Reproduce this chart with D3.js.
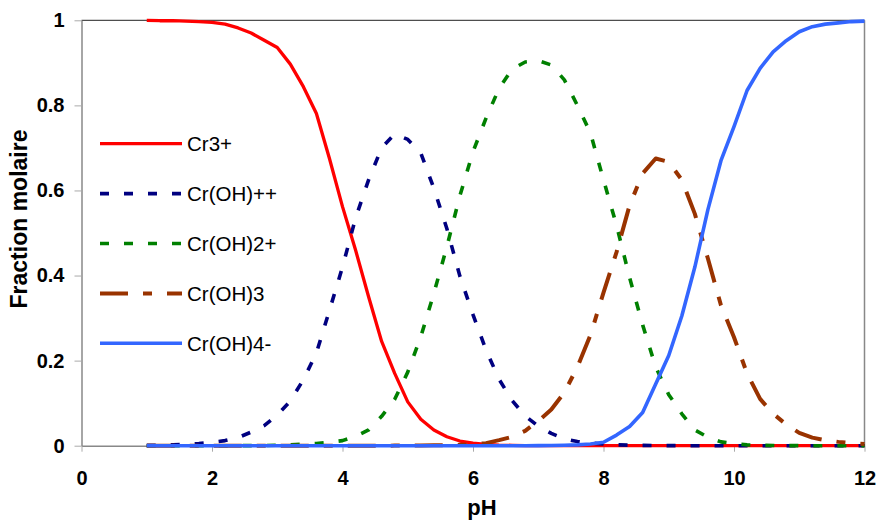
<!DOCTYPE html>
<html>
<head>
<meta charset="utf-8">
<script src="https://cdn.jsdelivr.net/npm/d3@7"></script>
<style>
  html, body { margin: 0; padding: 0; background: #fff; }
  svg { display: block; font-family: "Liberation Sans", Arial, sans-serif; }
</style>
</head>
<body>
<svg id="chart" width="881" height="524"></svg>
<script>
// ---- data ----
const pH = [1.0,1.2,1.4,1.6,1.8,2.0,2.2,2.4,2.6,2.8,3.0,3.2,3.4,3.6,3.8,4.0,4.2,4.4,4.6,4.8,
            5.0,5.2,5.4,5.6,5.8,6.0,6.2,6.4,6.6,6.8,7.0,7.2,7.4,7.6,7.8,8.0,8.2,8.4,8.6,8.8,
            9.0,9.2,9.4,9.6,9.8,10.0,10.2,10.4,10.6,10.8,11.0,11.2,11.4,11.6,11.8,12.0];

const cr3 = [1.0,0.999,0.999,0.998,0.997,0.995,0.991,0.982,0.970,0.953,0.936,0.897,0.844,0.781,0.675,0.562,0.460,0.350,0.245,0.170,
             0.103,0.062,0.037,0.021,0.011,0.006,0.003,0.0015,0.0008,0.0004,0.0002,0.0001,0,0,0,0,0,0,0,0,
             0,0,0,0,0,0,0,0,0,0,0,0,0,0,0,0];

const crOH = [0.0008,0.0013,0.002,0.003,0.005,0.008,0.012,0.019,0.032,0.047,0.072,0.105,0.155,0.218,0.318,0.420,0.535,0.625,0.700,0.733,
              0.720,0.688,0.605,0.510,0.398,0.308,0.225,0.156,0.106,0.070,0.046,0.029,0.016,0.010,0.006,0.004,0.002,0.0012,0.0007,0.0004,
              0.0002,0.0001,0,0,0,0,0,0,0,0,0,0,0,0,0,0];

const crOH2 = [0,0,0,0,0,0,0,0,0.0002,0.0005,0.001,0.002,0.004,0.005,0.008,0.012,0.022,0.037,0.069,0.109,
               0.173,0.256,0.358,0.468,0.588,0.691,0.770,0.840,0.885,0.902,0.905,0.895,0.860,0.800,0.735,0.625,0.518,0.395,0.284,0.185,
               0.120,0.075,0.037,0.020,0.009,0.005,0.002,0.001,0.0005,0.0002,0.0001,0,0,0,0,0];

const crOH3 = [0,0,0,0,0,0,0,0,0,0,0,0,0,0,0,0,0,0,0,0.0002,
               0.0004,0.0006,0.001,0.0015,0.002,0.003,0.006,0.013,0.021,0.035,0.058,0.085,0.125,0.185,0.260,0.360,0.455,0.565,0.640,0.675,
               0.667,0.625,0.545,0.440,0.330,0.255,0.170,0.110,0.075,0.050,0.030,0.019,0.013,0.009,0.006,0.004];

const crOH4 = [0,0,0,0,0,0,0,0,0,0,0,0,0,0,0,0,0,0,0,0,
               0,0,0,0,0,0,0,0,0,0,0.0002,0.0005,0.001,0.002,0.004,0.008,0.025,0.045,0.078,0.145,
               0.212,0.305,0.420,0.555,0.670,0.750,0.835,0.887,0.926,0.952,0.973,0.985,0.991,0.994,0.997,0.998];

const seriesNames = ["Cr3+", "Cr(OH)++", "Cr(OH)2+", "Cr(OH)3", "Cr(OH)4-"];
const seriesValues = [cr3, crOH, crOH2, crOH3, crOH4];
const xTicks = [0, 2, 4, 6, 8, 10, 12];
const yTicks = [0, 0.2, 0.4, 0.6, 0.8, 1];
const xTitle = "pH";
const yTitle = "Fraction molaire";

// ---- styles ----
const styles = [
  { color: "#FF0000", width: 3.3, dash: null },
  { color: "#000080", width: 3.6, dash: "9,15" },
  { color: "#008000", width: 3.6, dash: "9,15" },
  { color: "#993300", width: 4, dash: "28,15,9,15" },
  { color: "#3366FF", width: 3.6, dash: null }
];

const svg = d3.select("#chart");
const x = d3.scaleLinear().domain([0, 12]).range([81.5, 864.5]);
const y = d3.scaleLinear().domain([0, 1]).range([445.7, 20.3]);

// frame: top & right borders
svg.append("line").attr("x1", x(0)).attr("x2", x(12)).attr("y1", y(1)).attr("y2", y(1))
  .attr("stroke", "#222").attr("stroke-width", 1);
svg.append("line").attr("x1", x(12)).attr("x2", x(12)).attr("y1", y(1)).attr("y2", y(0))
  .attr("stroke", "#888").attr("stroke-width", 1.5);

// axes
const xAxis = svg.append("g").attr("transform", `translate(0,${y(0)})`)
  .call(d3.axisBottom(x).tickValues(xTicks).tickFormat(d3.format("d")).tickSizeInner(6).tickSizeOuter(0).tickPadding(19));
const yAxis = svg.append("g").attr("transform", `translate(${x(0)},0)`)
  .call(d3.axisLeft(y).tickValues(yTicks).tickFormat(d => d === 0 || d === 1 ? String(d) : d3.format(".1f")(d)).tickSizeInner(7).tickSizeOuter(0).tickPadding(10));

[xAxis, yAxis].forEach(g => {
  g.select(".domain").attr("stroke", "#888").attr("stroke-width", 1.5);
  g.selectAll(".tick line").attr("stroke", "#aaa").attr("stroke-width", 1);
  g.selectAll(".tick text").attr("fill", "#000").attr("font-size", 20).attr("font-weight", "bold")
    .attr("font-family", "'Liberation Sans', Arial, sans-serif");
});

// titles
svg.append("text").attr("x", 482).attr("y", 515).attr("text-anchor", "middle")
  .attr("font-size", 22).attr("font-weight", "bold").text(xTitle);
svg.append("text").attr("transform", `translate(27,219) rotate(-90)`).attr("text-anchor", "middle")
  .attr("font-size", 23).attr("font-weight", "bold").text(yTitle);

// series
const line = d3.line().x((d, i) => x(pH[i])).y(d => y(d));
seriesValues.forEach((vals, k) => {
  const s = styles[k];
  svg.append("path").datum(vals).attr("d", line)
    .attr("fill", "none").attr("stroke", s.color).attr("stroke-width", s.width)
    .attr("stroke-linejoin", "round")
    .attr("stroke-dasharray", s.dash);
});

// legend
const legend = svg.append("g");
seriesNames.forEach((name, k) => {
  const s = styles[k];
  const ly = 143.7 + k * 49.9;
  legend.append("line").attr("x1", 100).attr("x2", 182).attr("y1", ly).attr("y2", ly)
    .attr("stroke", s.color).attr("stroke-width", s.width).attr("stroke-dasharray", s.dash);
  legend.append("text").attr("x", 187).attr("y", ly + 7.3).attr("font-size", 20.5)
    .attr("fill", "#000").text(name);
});
</script>
</body>
</html>
